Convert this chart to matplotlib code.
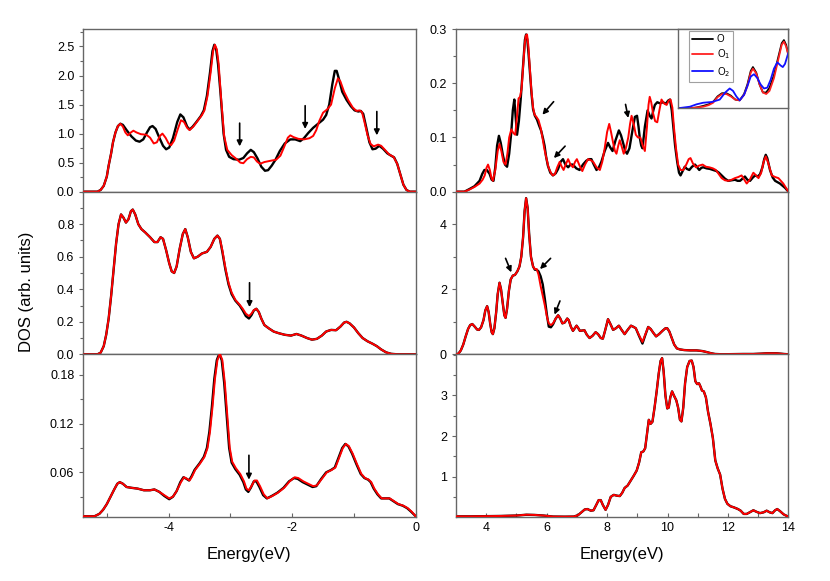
import numpy as np
import matplotlib
matplotlib.use("Agg")
import matplotlib.pyplot as plt
from matplotlib.ticker import MultipleLocator, FixedLocator, FormatStrFormatter

plt.rcParams['font.family'] = ['Liberation Sans', 'DejaVu Sans']

# ---- data: (energy, DOS) pairs ----
# left column, valence band
tl_black = [(-5.38,0),(-5.15,0),(-5.10,0.03),(-5.05,0.1),(-5.00,0.26),(-4.97,0.45),(-4.93,0.66),(-4.90,0.85),
            (-4.86,1.02),(-4.82,1.13),(-4.78,1.17),(-4.74,1.15),(-4.68,1.06),(-4.60,0.95),(-4.53,0.88),(-4.47,0.86),
            (-4.41,0.9),(-4.35,1.02),(-4.30,1.11),(-4.26,1.13),(-4.21,1.08),(-4.15,0.93),(-4.09,0.79),(-4.04,0.73),
            (-3.99,0.76),(-3.93,0.92),(-3.86,1.2),(-3.81,1.33),(-3.76,1.28),(-3.70,1.12),(-3.66,1.07),(-3.61,1.12),
            (-3.55,1.2),(-3.48,1.3),(-3.43,1.4),(-3.38,1.65),(-3.33,2.05),(-3.29,2.42),(-3.26,2.53),(-3.23,2.45),
            (-3.20,2.2),(-3.16,1.7),(-3.11,1.0),(-3.07,0.72),(-3.02,0.6),(-2.95,0.56),(-2.86,0.55),(-2.79,0.58),
            (-2.73,0.66),(-2.67,0.72),(-2.62,0.68),(-2.56,0.57),(-2.50,0.43),(-2.44,0.36),(-2.39,0.37),(-2.33,0.45),
            (-2.27,0.55),(-2.20,0.7),(-2.12,0.83),(-2.03,0.9),(-1.95,0.9),(-1.87,0.87),(-1.81,0.92),(-1.74,1.01),
            (-1.66,1.1),(-1.58,1.17),(-1.50,1.24),(-1.45,1.32),(-1.40,1.5),(-1.35,1.85),(-1.31,2.08),(-1.28,2.08),
            (-1.24,1.93),(-1.19,1.72),(-1.12,1.58),(-1.05,1.47),(-0.99,1.4),(-0.93,1.38),(-0.89,1.39),(-0.85,1.34),
            (-0.80,1.1),(-0.75,0.85),(-0.70,0.73),(-0.65,0.74),(-0.59,0.79),(-0.53,0.74),(-0.46,0.66),(-0.40,0.62),
            (-0.35,0.59),(-0.30,0.48),(-0.25,0.3),(-0.20,0.12),(-0.15,0.03),(-0.10,0),(0,0)]
tl_red = [(-5.38,0),(-5.15,0),(-5.10,0.03),(-5.05,0.1),(-5.00,0.26),(-4.97,0.45),(-4.93,0.66),(-4.90,0.85),
          (-4.86,1.02),(-4.82,1.13),(-4.78,1.17),(-4.74,1.12),(-4.70,1.02),(-4.66,0.97),(-4.61,1.02),(-4.57,1.05),
          (-4.52,1.02),(-4.45,0.99),(-4.36,0.98),(-4.30,0.93),(-4.24,0.83),(-4.19,0.85),(-4.14,0.96),(-4.10,1.0),
          (-4.05,0.93),(-4.00,0.83),(-3.96,0.8),(-3.91,0.88),(-3.85,1.08),(-3.80,1.23),(-3.75,1.2),(-3.70,1.1),
          (-3.66,1.06),(-3.60,1.12),(-3.53,1.22),(-3.46,1.32),(-3.42,1.4),(-3.37,1.65),(-3.32,2.05),(-3.28,2.42),
          (-3.25,2.53),(-3.22,2.45),(-3.19,2.2),(-3.15,1.6),(-3.10,0.95),(-3.05,0.72),(-2.98,0.63),(-2.91,0.57),
          (-2.84,0.5),(-2.79,0.49),(-2.73,0.56),(-2.67,0.6),(-2.62,0.59),(-2.57,0.52),(-2.52,0.48),(-2.45,0.51),
          (-2.36,0.53),(-2.26,0.55),(-2.19,0.62),(-2.13,0.77),(-2.07,0.93),(-2.03,0.97),(-1.98,0.94),(-1.90,0.91),
          (-1.81,0.9),(-1.72,0.92),(-1.66,0.96),(-1.61,1.06),(-1.56,1.22),(-1.50,1.36),(-1.43,1.42),(-1.37,1.5),
          (-1.31,1.78),(-1.26,1.95),(-1.22,1.9),(-1.16,1.72),(-1.09,1.57),(-1.02,1.45),(-0.96,1.39),(-0.91,1.4),
          (-0.87,1.37),(-0.83,1.2),(-0.78,0.97),(-0.73,0.82),(-0.68,0.78),(-0.61,0.81),(-0.56,0.79),(-0.49,0.71),
          (-0.43,0.64),(-0.36,0.6),(-0.30,0.48),(-0.25,0.3),(-0.20,0.12),(-0.15,0.03),(-0.10,0),(0,0)]
ml_black = [(-5.38,0),(-5.15,0),(-5.10,0.01),(-5.05,0.05),(-5.01,0.12),(-4.97,0.22),(-4.93,0.36),(-4.89,0.52),
            (-4.85,0.68),(-4.81,0.8),(-4.77,0.86),(-4.73,0.84),(-4.69,0.81),(-4.65,0.83),(-4.61,0.88),(-4.58,0.89),
            (-4.54,0.86),(-4.49,0.8),(-4.44,0.77),(-4.38,0.75),(-4.30,0.72),(-4.23,0.69),(-4.18,0.69),(-4.13,0.72),
            (-4.09,0.71),(-4.04,0.64),(-3.99,0.56),(-3.95,0.51),(-3.91,0.5),(-3.87,0.54),(-3.82,0.65),(-3.77,0.74),
            (-3.73,0.77),(-3.69,0.72),(-3.64,0.63),(-3.59,0.59),(-3.53,0.6),(-3.46,0.62),(-3.38,0.63),(-3.32,0.66),
            (-3.26,0.71),(-3.21,0.73),(-3.17,0.71),(-3.13,0.63),(-3.08,0.52),(-3.03,0.43),(-2.98,0.37),(-2.92,0.33),
            (-2.85,0.3),(-2.80,0.27),(-2.75,0.235),(-2.70,0.22),(-2.66,0.24),(-2.62,0.27),(-2.58,0.28),(-2.54,0.26),
            (-2.50,0.22),(-2.45,0.18),(-2.38,0.16),(-2.30,0.14),(-2.22,0.13),(-2.12,0.12),(-2.02,0.115),(-1.93,0.125),
            (-1.85,0.115),(-1.76,0.1),(-1.68,0.09),(-1.60,0.095),(-1.52,0.115),(-1.45,0.14),(-1.37,0.15),(-1.29,0.148),
            (-1.22,0.17),(-1.16,0.195),(-1.12,0.2),(-1.07,0.19),(-1.00,0.165),(-0.93,0.13),(-0.86,0.1),(-0.78,0.08),
            (-0.70,0.065),(-0.63,0.05),(-0.56,0.03),(-0.48,0.012),(-0.40,0.003),(-0.30,0),(0,0)]
ml_red = [(-5.38,0),(-5.15,0),(-5.10,0.01),(-5.05,0.05),(-5.01,0.12),(-4.97,0.22),(-4.93,0.36),(-4.89,0.52),
          (-4.85,0.68),(-4.81,0.8),(-4.77,0.86),(-4.73,0.84),(-4.69,0.81),(-4.65,0.83),(-4.61,0.88),(-4.58,0.89),
          (-4.54,0.86),(-4.49,0.8),(-4.44,0.77),(-4.38,0.75),(-4.30,0.72),(-4.23,0.69),(-4.18,0.69),(-4.13,0.72),
          (-4.09,0.71),(-4.04,0.64),(-3.99,0.56),(-3.95,0.51),(-3.91,0.5),(-3.87,0.54),(-3.82,0.65),(-3.77,0.74),
          (-3.73,0.77),(-3.69,0.72),(-3.64,0.63),(-3.59,0.59),(-3.53,0.6),(-3.46,0.62),(-3.38,0.63),(-3.32,0.66),
          (-3.26,0.71),(-3.21,0.73),(-3.17,0.71),(-3.13,0.64),(-3.08,0.53),(-3.03,0.44),(-2.98,0.38),(-2.92,0.335),
          (-2.85,0.305),(-2.80,0.28),(-2.75,0.25),(-2.70,0.235),(-2.66,0.25),(-2.62,0.272),(-2.58,0.28),(-2.54,0.26),
          (-2.50,0.22),(-2.45,0.18),(-2.38,0.16),(-2.30,0.14),(-2.22,0.13),(-2.12,0.12),(-2.02,0.115),(-1.93,0.125),
          (-1.85,0.115),(-1.76,0.1),(-1.68,0.09),(-1.60,0.095),(-1.52,0.115),(-1.45,0.14),(-1.37,0.15),(-1.29,0.148),
          (-1.22,0.17),(-1.16,0.195),(-1.12,0.2),(-1.07,0.19),(-1.00,0.165),(-0.93,0.13),(-0.86,0.1),(-0.78,0.08),
          (-0.70,0.065),(-0.63,0.05),(-0.56,0.03),(-0.48,0.012),(-0.40,0.003),(-0.30,0),(0,0)]
bl_black = [(-5.38,0.006),(-5.20,0.006),(-5.12,0.009),(-5.06,0.014),(-5.00,0.021),(-4.94,0.03),(-4.88,0.039),
            (-4.83,0.046),(-4.79,0.048),(-4.74,0.046),(-4.68,0.042),(-4.60,0.041),(-4.50,0.04),(-4.40,0.038),
            (-4.30,0.038),(-4.23,0.039),(-4.15,0.036),(-4.07,0.031),(-3.99,0.027),(-3.93,0.03),(-3.87,0.037),
            (-3.81,0.048),(-3.76,0.054),(-3.71,0.052),(-3.67,0.05),(-3.63,0.055),(-3.58,0.063),(-3.50,0.071),
            (-3.43,0.079),(-3.38,0.09),(-3.34,0.11),(-3.30,0.14),(-3.26,0.175),(-3.22,0.198),(-3.18,0.206),
            (-3.14,0.198),(-3.10,0.17),(-3.06,0.13),(-3.02,0.09),(-2.98,0.072),(-2.92,0.064),(-2.85,0.057),
            (-2.79,0.048),(-2.75,0.039),(-2.71,0.036),(-2.67,0.041),(-2.62,0.049),(-2.58,0.049),(-2.53,0.042),
            (-2.47,0.032),(-2.41,0.028),(-2.33,0.031),(-2.24,0.035),(-2.14,0.041),(-2.05,0.049),(-1.97,0.053),
            (-1.91,0.052),(-1.83,0.048),(-1.75,0.045),(-1.67,0.042),(-1.61,0.043),(-1.53,0.052),(-1.45,0.06),
            (-1.37,0.063),(-1.31,0.066),(-1.25,0.078),(-1.19,0.09),(-1.14,0.095),(-1.09,0.092),(-1.03,0.083),
            (-0.96,0.07),(-0.89,0.058),(-0.83,0.053),(-0.77,0.051),(-0.73,0.048),(-0.68,0.04),(-0.62,0.033),
            (-0.56,0.028),(-0.49,0.028),(-0.43,0.028),(-0.37,0.025),(-0.29,0.021),(-0.21,0.019),(-0.14,0.016),
            (-0.08,0.012),(0,0.006)]
bl_red = [(-5.38,0.006),(-5.20,0.006),(-5.12,0.009),(-5.06,0.014),(-5.00,0.021),(-4.94,0.03),(-4.88,0.039),
          (-4.83,0.046),(-4.79,0.048),(-4.74,0.046),(-4.68,0.042),(-4.60,0.041),(-4.50,0.04),(-4.40,0.038),
          (-4.30,0.038),(-4.23,0.039),(-4.15,0.036),(-4.07,0.032),(-3.99,0.028),(-3.93,0.03),(-3.87,0.037),
          (-3.80,0.048),(-3.75,0.054),(-3.70,0.052),(-3.66,0.05),(-3.62,0.055),(-3.57,0.063),(-3.49,0.071),
          (-3.42,0.079),(-3.37,0.09),(-3.33,0.11),(-3.29,0.14),(-3.25,0.175),(-3.21,0.198),(-3.17,0.206),
          (-3.13,0.198),(-3.09,0.17),(-3.05,0.13),(-3.01,0.09),(-2.97,0.073),(-2.91,0.065),(-2.84,0.058),
          (-2.78,0.049),(-2.74,0.04),(-2.70,0.038),(-2.66,0.043),(-2.61,0.05),(-2.57,0.05),(-2.52,0.043),
          (-2.46,0.033),(-2.40,0.028),(-2.32,0.031),(-2.23,0.035),(-2.13,0.041),(-2.04,0.049),(-1.96,0.054),
          (-1.90,0.053),(-1.82,0.049),(-1.74,0.046),(-1.66,0.043),(-1.60,0.044),(-1.52,0.052),(-1.44,0.06),
          (-1.36,0.063),(-1.30,0.066),(-1.24,0.078),(-1.18,0.09),(-1.13,0.095),(-1.08,0.092),(-1.02,0.083),
          (-0.95,0.07),(-0.88,0.058),(-0.82,0.053),(-0.76,0.051),(-0.72,0.048),(-0.67,0.04),(-0.61,0.033),
          (-0.55,0.028),(-0.48,0.028),(-0.42,0.028),(-0.36,0.025),(-0.28,0.021),(-0.20,0.019),(-0.13,0.016),
          (-0.07,0.012),(0,0.006)]

# right column, conduction band
tr_black = [(2.98,0),(3.28,0),(3.45,0.005),(3.61,0.01),(3.78,0.02),(3.87,0.033),(3.94,0.04),(4.02,0.04),
            (4.11,0.033),(4.18,0.022),(4.24,0.02),(4.30,0.045),(4.36,0.085),(4.42,0.103),(4.48,0.09),(4.55,0.068),
            (4.62,0.05),(4.69,0.046),(4.76,0.07),(4.83,0.11),(4.88,0.15),(4.93,0.17),(4.97,0.14),(5.02,0.105),
            (5.08,0.13),(5.14,0.17),(5.19,0.21),(5.24,0.25),(5.28,0.28),(5.32,0.29),(5.36,0.28),(5.40,0.255),
            (5.44,0.225),(5.50,0.18),(5.55,0.152),(5.61,0.14),(5.68,0.133),(5.75,0.122),(5.82,0.112),(5.88,0.098),
            (5.93,0.085),(5.98,0.065),(6.04,0.048),(6.12,0.035),(6.21,0.03),(6.30,0.034),(6.38,0.042),(6.46,0.055),
            (6.54,0.06),(6.62,0.05),(6.71,0.045),(6.79,0.05),(6.87,0.05),(6.98,0.043),(7.09,0.04),(7.20,0.05),
            (7.31,0.057),(7.40,0.06),(7.48,0.06),(7.56,0.05),(7.65,0.04),(7.73,0.045),(7.81,0.055),(7.92,0.075),
            (8.03,0.09),(8.10,0.082),(8.18,0.075),(8.28,0.095),(8.39,0.113),(8.46,0.104),(8.53,0.09),(8.60,0.075),
            (8.66,0.07),(8.74,0.08),(8.83,0.11),(8.92,0.138),(8.99,0.14),(9.04,0.12),(9.08,0.1),(9.13,0.085),
            (9.17,0.08),(9.25,0.12),(9.34,0.15),(9.41,0.14),(9.47,0.135),(9.53,0.15),(9.58,0.16),(9.66,0.165),
            (9.75,0.163),(9.85,0.165),(9.94,0.162),(10.02,0.168),(10.08,0.17),(10.14,0.15),(10.19,0.12),
            (10.25,0.085),(10.32,0.055),(10.38,0.035),(10.43,0.03),(10.50,0.038),(10.57,0.046),(10.64,0.042),
            (10.72,0.04),(10.81,0.046),(10.91,0.05),(10.98,0.045),(11.05,0.04),(11.12,0.044),(11.18,0.045),
            (11.29,0.043),(11.40,0.042),(11.51,0.04),(11.62,0.038),(11.70,0.035),(11.79,0.03),(11.90,0.024),
            (12.01,0.02),(12.12,0.021),(12.23,0.022),(12.32,0.02),(12.40,0.02),(12.48,0.024),(12.56,0.028),
            (12.64,0.022),(12.73,0.02),(12.82,0.026),(12.90,0.03),(12.98,0.028),(13.06,0.032),(13.14,0.045),
            (13.20,0.06),(13.25,0.068),(13.30,0.062),(13.39,0.04),(13.48,0.026),(13.56,0.02),(13.72,0.015),
            (13.89,0.007),(14.0,0)]
tr_red = [(2.98,0),(3.28,0),(3.45,0.004),(3.62,0.009),(3.78,0.015),(3.88,0.022),(3.95,0.03),(4.01,0.044),
          (4.06,0.05),(4.12,0.04),(4.17,0.026),(4.22,0.02),(4.30,0.04),(4.38,0.075),(4.44,0.088),(4.50,0.075),
          (4.57,0.055),(4.64,0.05),(4.70,0.07),(4.76,0.1),(4.83,0.115),(4.90,0.108),(4.96,0.105),(5.02,0.14),
          (5.07,0.172),(5.12,0.175),(5.17,0.19),(5.22,0.23),(5.27,0.27),(5.31,0.288),(5.35,0.29),(5.39,0.272),
          (5.44,0.23),(5.49,0.19),(5.55,0.155),(5.60,0.142),(5.66,0.138),(5.73,0.132),(5.80,0.118),(5.86,0.1),
          (5.92,0.08),(5.99,0.062),(6.06,0.045),(6.14,0.035),(6.20,0.03),(6.27,0.032),(6.35,0.045),(6.43,0.055),
          (6.50,0.046),(6.56,0.04),(6.63,0.05),(6.71,0.06),(6.79,0.05),(6.87,0.045),(6.94,0.055),(7.0,0.06),
          (7.09,0.048),(7.18,0.038),(7.27,0.05),(7.37,0.06),(7.46,0.058),(7.54,0.055),(7.65,0.045),(7.76,0.04),
          (7.84,0.055),(7.92,0.08),(8.00,0.11),(8.07,0.125),(8.13,0.11),(8.20,0.09),(8.26,0.075),(8.31,0.07),
          (8.37,0.085),(8.42,0.095),(8.49,0.082),(8.55,0.07),(8.62,0.08),(8.70,0.1),(8.76,0.125),(8.81,0.14),
          (8.88,0.125),(8.95,0.105),(9.02,0.1),(9.10,0.1),(9.18,0.085),(9.25,0.075),(9.32,0.12),(9.37,0.16),
          (9.41,0.175),(9.46,0.165),(9.52,0.145),(9.59,0.13),(9.66,0.128),(9.73,0.15),(9.80,0.17),(9.88,0.163),
          (9.97,0.16),(10.04,0.168),(10.10,0.17),(10.16,0.155),(10.21,0.12),(10.28,0.08),(10.35,0.05),(10.43,0.04),
          (10.52,0.04),(10.62,0.05),(10.70,0.06),(10.76,0.062),(10.84,0.052),(10.94,0.045),(11.04,0.048),
          (11.16,0.05),(11.27,0.046),(11.38,0.045),(11.50,0.043),(11.60,0.04),(11.70,0.032),(11.79,0.025),
          (11.90,0.021),(12.01,0.02),(12.12,0.022),(12.23,0.025),(12.34,0.027),(12.45,0.03),(12.54,0.022),
          (12.62,0.015),(12.72,0.022),(12.84,0.035),(12.93,0.03),(13.01,0.025),(13.10,0.035),(13.18,0.055),
          (13.25,0.065),(13.32,0.055),(13.45,0.03),(13.56,0.027),(13.67,0.025),(13.83,0.015),(14.0,0)]
mr_black = [(2.98,0),(3.08,0.02),(3.16,0.12),(3.24,0.3),(3.32,0.55),(3.40,0.78),(3.47,0.9),(3.54,0.93),
            (3.62,0.85),(3.70,0.76),(3.76,0.75),(3.83,0.83),(3.91,1.05),(3.97,1.35),(4.03,1.48),(4.08,1.3),
            (4.13,0.95),(4.18,0.68),(4.22,0.62),(4.27,0.8),(4.33,1.3),(4.38,1.85),(4.44,2.2),(4.49,2.0),
            (4.55,1.55),(4.60,1.2),(4.64,1.12),(4.69,1.4),(4.75,1.95),(4.81,2.3),(4.88,2.42),(4.95,2.44),
            (5.03,2.55),(5.10,2.7),(5.16,3.0),(5.22,3.6),(5.27,4.4),(5.32,4.8),(5.37,4.5),(5.42,3.7),(5.48,3.0),
            (5.55,2.7),(5.61,2.6),(5.67,2.6),(5.73,2.55),(5.80,2.4),(5.87,2.15),(5.94,1.7),(6.01,1.2),(6.07,0.85),
            (6.14,0.83),(6.21,0.92),(6.30,1.1),(6.38,1.2),(6.45,1.1),(6.52,0.95),(6.60,0.98),(6.68,1.1),(6.73,1.05),
            (6.80,0.85),(6.87,0.72),(6.93,0.8),(6.99,0.88),(7.05,0.8),(7.10,0.72),(7.17,0.73),(7.25,0.74),
            (7.33,0.6),(7.42,0.5),(7.52,0.57),(7.62,0.68),(7.70,0.62),(7.79,0.5),(7.86,0.48),(7.94,0.75),
            (8.03,1.08),(8.10,0.95),(8.20,0.75),(8.29,0.8),(8.39,0.88),(8.48,0.75),(8.58,0.62),(8.68,0.75),
            (8.79,0.88),(8.88,0.84),(8.95,0.8),(9.05,0.58),(9.17,0.33),(9.26,0.58),(9.36,0.84),(9.44,0.78),
            (9.53,0.66),(9.62,0.55),(9.72,0.62),(9.83,0.72),(9.93,0.8),(9.99,0.8),(10.06,0.7),(10.14,0.5),
            (10.22,0.3),(10.31,0.18),(10.41,0.15),(10.55,0.13),(10.75,0.12),(10.96,0.12),(11.15,0.1),(11.29,0.07),
            (11.45,0.03),(11.57,0.01),(11.8,0.0),(12.5,0.01),(12.84,0.01),(13.1,0.02),(13.28,0.03),(13.61,0.03),
            (13.85,0.01),(14.0,0)]
mr_red = [(2.98,0),(3.08,0.02),(3.16,0.12),(3.24,0.3),(3.32,0.55),(3.40,0.78),(3.47,0.9),(3.54,0.93),
          (3.62,0.85),(3.70,0.76),(3.76,0.75),(3.83,0.83),(3.91,1.05),(3.97,1.35),(4.03,1.48),(4.08,1.3),
          (4.13,0.95),(4.18,0.68),(4.22,0.62),(4.27,0.8),(4.33,1.3),(4.38,1.85),(4.44,2.2),(4.49,2.0),
          (4.55,1.55),(4.60,1.2),(4.64,1.12),(4.69,1.4),(4.75,1.95),(4.81,2.3),(4.88,2.42),(4.95,2.44),
          (5.03,2.55),(5.10,2.7),(5.16,3.0),(5.22,3.6),(5.27,4.4),(5.32,4.8),(5.37,4.5),(5.42,3.7),(5.48,3.0),
          (5.55,2.7),(5.61,2.62),(5.67,2.62),(5.73,2.45),(5.80,2.1),(5.87,1.8),(5.94,1.5),(6.01,1.15),(6.07,0.95),
          (6.14,0.9),(6.21,0.95),(6.30,1.1),(6.38,1.2),(6.45,1.1),(6.52,0.95),(6.60,0.98),(6.68,1.1),(6.73,1.05),
          (6.80,0.85),(6.87,0.72),(6.93,0.8),(6.99,0.88),(7.05,0.8),(7.10,0.72),(7.17,0.73),(7.25,0.74),
          (7.33,0.6),(7.42,0.5),(7.52,0.57),(7.62,0.68),(7.70,0.62),(7.79,0.5),(7.86,0.48),(7.94,0.75),
          (8.03,1.08),(8.10,0.95),(8.20,0.75),(8.29,0.8),(8.39,0.88),(8.48,0.75),(8.58,0.62),(8.68,0.75),
          (8.79,0.88),(8.88,0.84),(8.95,0.8),(9.05,0.6),(9.17,0.38),(9.26,0.6),(9.36,0.84),(9.44,0.78),
          (9.53,0.66),(9.62,0.55),(9.72,0.62),(9.83,0.72),(9.93,0.8),(9.99,0.8),(10.06,0.7),(10.14,0.5),
          (10.22,0.3),(10.31,0.18),(10.41,0.15),(10.55,0.13),(10.75,0.12),(10.96,0.12),(11.15,0.1),(11.29,0.07),
          (11.45,0.03),(11.57,0.01),(11.8,0.0),(12.5,0.01),(12.84,0.01),(13.1,0.02),(13.28,0.03),(13.61,0.03),
          (13.85,0.01),(14.0,0)]
br_red = [(2.98,0.02),(3.5,0.02),(4.0,0.025),(4.5,0.03),(5.0,0.04),(5.33,0.06),(5.6,0.055),(5.9,0.04),
          (6.21,0.015),(6.6,0.012),(6.9,0.015),(7.04,0.05),(7.15,0.12),(7.26,0.19),(7.35,0.2),(7.46,0.16),
          (7.55,0.17),(7.64,0.3),(7.72,0.42),(7.79,0.42),(7.86,0.3),(7.95,0.18),(8.03,0.3),(8.12,0.5),(8.22,0.55),
          (8.32,0.53),(8.42,0.52),(8.50,0.6),(8.58,0.72),(8.68,0.78),(8.78,0.9),(8.88,1.02),(8.98,1.15),
          (9.06,1.35),(9.13,1.6),(9.20,1.62),(9.26,1.7),(9.32,2.05),(9.38,2.4),(9.44,2.3),(9.50,2.35),(9.57,2.7),
          (9.64,3.1),(9.71,3.55),(9.77,3.85),(9.82,3.92),(9.87,3.6),(9.93,3.0),(9.99,2.68),(10.04,2.7),
          (10.09,2.95),(10.15,3.1),(10.21,3.0),(10.29,2.88),(10.35,2.7),(10.41,2.4),(10.46,2.36),(10.52,2.7),
          (10.58,3.3),(10.65,3.7),(10.73,3.85),(10.80,3.86),(10.86,3.7),(10.92,3.35),(10.98,3.28),(11.04,3.3),
          (11.09,3.22),(11.14,3.12),(11.20,3.1),(11.27,2.95),(11.34,2.6),(11.42,2.3),(11.50,1.95),(11.58,1.4),
          (11.66,1.2),(11.74,1.05),(11.82,0.7),(11.90,0.45),(11.98,0.33),(12.08,0.27),(12.20,0.24),(12.33,0.2),
          (12.42,0.16),(12.52,0.08),(12.62,0.08),(12.72,0.12),(12.84,0.17),(12.95,0.13),(13.06,0.1),(13.18,0.12),
          (13.28,0.16),(13.38,0.12),(13.47,0.1),(13.56,0.17),(13.63,0.2),(13.72,0.15),(13.84,0.07),(14.0,0.01)]
br_black = br_red  # the two curves coincide at this reading precision

# inset (arbitrary units)
in_black = [(0,0),(0.11,0.0),(0.17,0.01),(0.23,0.03),(0.28,0.05),(0.32,0.08),(0.36,0.15),(0.40,0.19),
            (0.44,0.19),(0.48,0.16),(0.52,0.11),(0.56,0.1),(0.60,0.18),(0.63,0.3),(0.66,0.47),(0.68,0.52),
            (0.71,0.45),(0.74,0.3),(0.77,0.2),(0.80,0.2),(0.83,0.26),(0.87,0.42),(0.91,0.65),(0.94,0.82),
            (0.96,0.86),(0.98,0.8),(1.0,0.68)]
in_red = [(0,0),(0.11,0.0),(0.17,0.01),(0.23,0.02),(0.28,0.04),(0.32,0.07),(0.36,0.14),(0.40,0.18),
          (0.44,0.18),(0.48,0.15),(0.52,0.11),(0.56,0.1),(0.60,0.17),(0.63,0.28),(0.66,0.45),(0.68,0.5),
          (0.71,0.44),(0.74,0.3),(0.77,0.2),(0.80,0.18),(0.83,0.22),(0.87,0.38),(0.91,0.62),(0.94,0.8),
          (0.96,0.84),(0.98,0.78),(1.0,0.67)]
in_blue = [(0,0),(0.11,0.02),(0.17,0.05),(0.23,0.07),(0.31,0.08),(0.38,0.11),(0.43,0.2),(0.47,0.25),
           (0.50,0.22),(0.53,0.15),(0.56,0.1),(0.60,0.17),(0.63,0.28),(0.66,0.4),(0.69,0.43),(0.72,0.38),
           (0.75,0.3),(0.78,0.25),(0.81,0.26),(0.84,0.36),(0.87,0.5),(0.90,0.58),(0.93,0.54),(0.95,0.52),
           (0.97,0.56),(1.0,0.7)]

FRAME = '#666666'


def style(ax, xlim, ylim, yticks, yminor, yfmt, xmajor=None, show_x=False):
    ax.set_xlim(*xlim)
    ax.set_ylim(*ylim)
    for s in ax.spines.values():
        s.set_color(FRAME)
        s.set_linewidth(1.0)
    ax.yaxis.set_major_locator(FixedLocator(yticks))
    ax.yaxis.set_minor_locator(MultipleLocator(yminor))
    ax.yaxis.set_major_formatter(FormatStrFormatter(yfmt))
    ax.tick_params(axis='y', which='both', direction='out', length=3, width=0.8, color=FRAME,
                   labelsize=9, right=False)
    ax.tick_params(axis='y', which='minor', length=2)
    if show_x:
        ax.xaxis.set_major_locator(MultipleLocator(xmajor))
        ax.xaxis.set_minor_locator(MultipleLocator(xmajor / 2))
        ax.xaxis.set_major_formatter(FormatStrFormatter('%d'))
        ax.tick_params(axis='x', which='both', direction='in', length=3, width=0.8, color=FRAME,
                       labelsize=9, top=False, pad=4)
    else:
        ax.tick_params(axis='x', which='both', bottom=False, top=False, labelbottom=False)


def curve(ax, pts, color, lw=1.4, z=2):
    e = [p[0] for p in pts]
    d = [p[1] for p in pts]
    return ax.plot(e, d, color=color, lw=lw, zorder=z, solid_joinstyle='round', solid_capstyle='round')[0]


def arrow(ax, xy_from, xy_to):
    ax.annotate('', xy=xy_to, xytext=xy_from,
                arrowprops=dict(arrowstyle='-|>', color='black', lw=1.2, mutation_scale=8,
                                shrinkA=0, shrinkB=0), zorder=5)


fig = plt.figure(figsize=(8.3, 5.81), dpi=100)

lx, rx, w = 0.1004, 0.5494, 0.4005
rows = [0.6701, 0.3902, 0.1107]
h = 0.2799

ax_tl = fig.add_axes([lx, rows[0], w, h])
ax_ml = fig.add_axes([lx, rows[1], w, h])
ax_bl = fig.add_axes([lx, rows[2], w, h])
ax_tr = fig.add_axes([rx, rows[0], w, h])
ax_mr = fig.add_axes([rx, rows[1], w, h])
ax_br = fig.add_axes([rx, rows[2], w, h])

for ax, b, r in [(ax_tl, tl_black, tl_red), (ax_ml, ml_black, ml_red), (ax_bl, bl_black, bl_red),
                 (ax_tr, tr_black, tr_red), (ax_mr, mr_black, mr_red), (ax_br, br_black, br_red)]:
    curve(ax, b, 'black', lw=1.7, z=2)
    curve(ax, r, '#ff0000', lw=1.4, z=3)

style(ax_tl, (-5.38, 0), (0, 2.8), [0, 0.5, 1.0, 1.5, 2.0, 2.5], 0.25, '%.1f')
style(ax_ml, (-5.38, 0), (0, 1.0), [0, 0.2, 0.4, 0.6, 0.8], 0.1, '%.1f')
style(ax_bl, (-5.38, 0), (0.0055, 0.2055), [0.06, 0.12, 0.18], 0.03, '%.2f', xmajor=2, show_x=True)
style(ax_tr, (3, 14), (0, 0.3), [0, 0.1, 0.2, 0.3], 0.05, '%.1f')
style(ax_mr, (3, 14), (0, 5.0), [0, 2, 4], 1, '%d')
style(ax_br, (3, 14), (0.012, 4.02), [1, 2, 3], 0.5, '%d', xmajor=2, show_x=True)

# arrows marking features
arrow(ax_tl, (-2.85, 1.18), (-2.85, 0.78))
arrow(ax_tl, (-1.79, 1.48), (-1.79, 1.08))
arrow(ax_tl, (-0.63, 1.38), (-0.63, 0.97))
arrow(ax_ml, (-2.69, 0.44), (-2.69, 0.29))
arrow(ax_bl, (-2.70, 0.081), (-2.70, 0.051))
arrow(ax_tr, (6.23, 0.166), (5.86, 0.142))
arrow(ax_tr, (6.61, 0.084), (6.24, 0.062))
arrow(ax_tr, (8.61, 0.161), (8.70, 0.136))
arrow(ax_mr, (4.64, 2.95), (4.83, 2.52))
arrow(ax_mr, (6.13, 2.95), (5.78, 2.62))
arrow(ax_mr, (6.44, 1.64), (6.26, 1.22))

# inset
ax_in = fig.add_axes([0.8165, 0.8136, 0.1333, 0.1365])
ax_in.set_xlim(0, 1)
ax_in.set_ylim(0, 1.0)
for s in ax_in.spines.values():
    s.set_color(FRAME)
    s.set_linewidth(1.0)
ax_in.set_xticks([])
ax_in.set_yticks([])
l1 = curve(ax_in, in_black, 'black', lw=1.3)
l2 = curve(ax_in, in_red, '#ff2020', lw=1.3)
l3 = curve(ax_in, in_blue, '#1010ff', lw=1.3)
leg = ax_in.legend([l1, l2, l3], ['O', 'O$_1$', 'O$_2$'], loc='upper left', bbox_to_anchor=(0.1, 0.97),
                   fontsize=7, frameon=True, fancybox=False, handlelength=2.2, handletextpad=0.4,
                   borderpad=0.3, labelspacing=0.35, borderaxespad=0)
leg.get_frame().set_edgecolor('#888888')
leg.get_frame().set_linewidth(0.8)

fig.text(26 / 830, 1 - 292 / 581, 'DOS (arb. units)', rotation=90, ha='center', va='center', fontsize=12)
fig.text(249 / 830, 1 - 555 / 581, 'Energy(eV)', ha='center', va='center', fontsize=12)
fig.text(622 / 830, 1 - 555 / 581, 'Energy(eV)', ha='center', va='center', fontsize=12)

fig.savefig('out.png', dpi=100)
